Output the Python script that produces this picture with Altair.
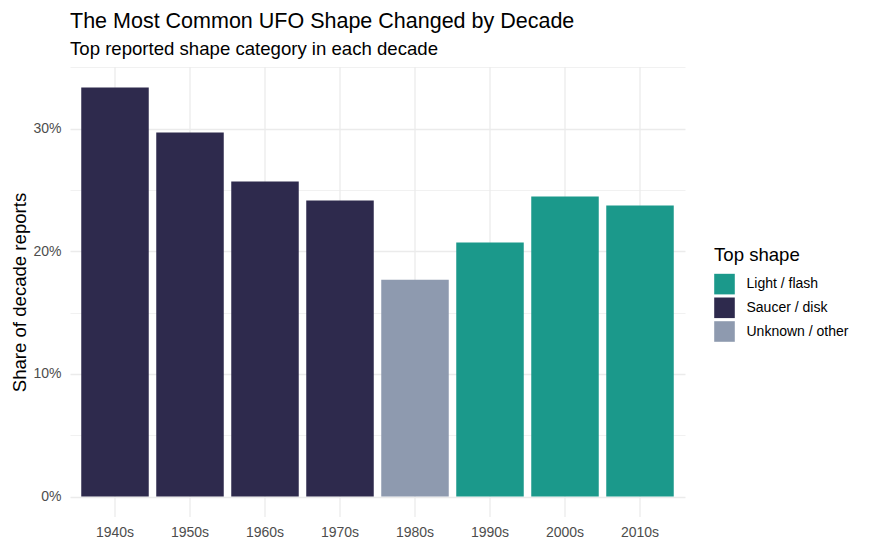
import altair as alt
import pandas as pd

decades = ["1940s", "1950s", "1960s", "1970s", "1980s", "1990s", "2000s", "2010s"]
shares = [0.3337, 0.2970, 0.2570, 0.2414, 0.1769, 0.2072, 0.2447, 0.2374]
shapes = ["Saucer / disk", "Saucer / disk", "Saucer / disk", "Saucer / disk",
          "Unknown / other", "Light / flash", "Light / flash", "Light / flash"]

shape_names = ["Light / flash", "Saucer / disk", "Unknown / other"]
shape_colors = ["#1B998B", "#2E2A4D", "#8E9AAF"]

y_ticks = [0, 0.05, 0.10, 0.15, 0.20, 0.25, 0.30, 0.35]

df = pd.DataFrame({"decade": decades, "share": shares, "shape": shapes})

FONT = "Liberation Sans"
top = max(shares)
y_domain = [-0.05 * top, 1.05 * top]

major_test = "round(datum.value * 100) % 10 == 0"

x_enc = alt.X(
    "decade:N",
    sort=decades,
    title=None,
    scale=alt.Scale(paddingInner=0.1, paddingOuter=0.15),
    axis=alt.Axis(
        labelFont=FONT, labelFontSize=14, labelColor="#4D4D4D",
        labelPadding=8, ticks=False, domain=False, labelAngle=0, grid=False,
    ),
)

y_scale = alt.Scale(domain=y_domain, nice=False, zero=False)

grid_v = (
    alt.Chart(df)
    .mark_rule(color="#EBEBEB", strokeWidth=1.3)
    .encode(
        x=x_enc,
        y=alt.datum(y_domain[1], scale=y_scale),
        y2=alt.datum(y_domain[0]),
    )
)

bars = (
    alt.Chart(df)
    .mark_bar()
    .encode(
        x=x_enc,
        y=alt.Y(
            "share:Q",
            title="Share of decade reports",
            scale=y_scale,
            axis=alt.Axis(
                values=y_ticks,
                labelExpr=f"{major_test} ? format(datum.value, '.0%') : ''",
                labelFont=FONT, labelFontSize=14, labelColor="#4D4D4D",
                labelPadding=9, ticks=False, domain=False,
                grid=True, gridColor="#EBEBEB",
                gridWidth={"condition": {"test": major_test, "value": 1.3}, "value": 0.7},
                titleFont=FONT, titleFontSize=18.6, titleFontWeight="normal",
                titleColor="#000000", titleBaseline="alphabetic", titleX=-45,
            ),
        ),
        y2=alt.datum(0),
        color=alt.Color(
            "shape:N",
            title="Top shape",
            scale=alt.Scale(domain=shape_names, range=shape_colors),
            legend=alt.Legend(
                orient="none", legendX=644, legendY=179,
                titleFont=FONT, titleFontSize=18.6, titleFontWeight="normal",
                titleColor="#000000", titlePadding=9,
                labelFont=FONT, labelFontSize=14, labelColor="#000000",
                labelOffset=11.5, symbolType="square", symbolSize=424,
                symbolStrokeWidth=0, symbolOpacity=1, rowPadding=2.7,
            ),
        ),
    )
)

chart = (
    alt.layer(grid_v, bars)
    .properties(
        width=615,
        height=450,
        autosize=alt.AutoSizeParams(type="none"),
        padding={"left": 62, "top": 59, "right": 176, "bottom": 26},
        title=alt.TitleParams(
            text="The Most Common UFO Shape Changed by Decade",
            subtitle="Top reported shape category in each decade",
            anchor="start", frame="group", font=FONT, fontSize=21.5,
            fontWeight="normal", color="#000000", subtitleFont=FONT,
            subtitleFontSize=18.6, subtitleColor="#000000",
            offset=8, subtitlePadding=7,
        ),
    )
    .configure(background="white",
               style={"cell": {"stroke": "transparent", "strokeWidth": 0}})
    .configure_view(stroke="transparent", strokeWidth=0)
)

chart.save("out.html", embed_options={"renderer": "svg", "actions": False})
